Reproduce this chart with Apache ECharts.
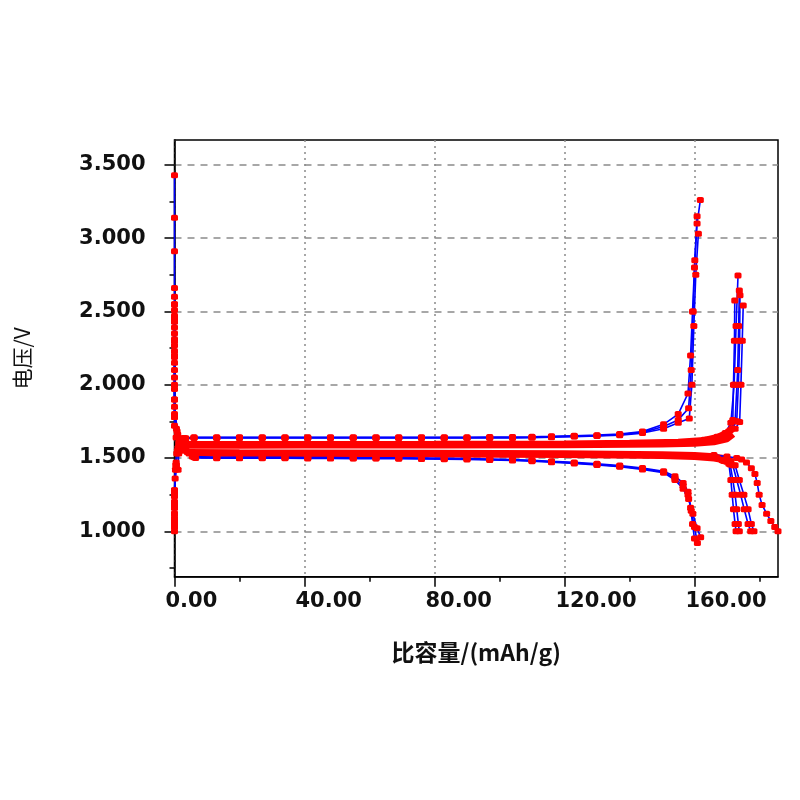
<!DOCTYPE html>
<html>
<head>
<meta charset="utf-8">
<script src="https://cdn.jsdelivr.net/npm/echarts@6/dist/echarts.min.js"></script>
<style>html,body{margin:0;padding:0;background:#fff}#c{width:800px;height:800px}</style>
</head>
<body>
<div id="c"></div>
<script>
// ---- tick labels ----
const xTicks = [0, 40, 80, 120, 160];
const yTicks = [1.0, 1.5, 2.0, 2.5, 3.0, 3.5];
const xName = '比容量/(mAh/g)';
const yName = '电压/V';

// ---- low-rate discharge curves [capacity mAh/g, voltage V] ----
const lowDis1 = [[0,3.43],[0,3.14],[0,2.91],[0,2.66],[0,2.6],[0,2.2],[0,1.9],[0,1.78],[0.6,1.70],[1.8,1.63],[3.5,1.56],[5.5,1.51],[13,1.505],[20,1.505],[27,1.504],[34,1.504],[41,1.503],[48,1.503],[55,1.502],[62,1.502],[69,1.501],[76,1.500],[83,1.498],[90,1.496],[97,1.493],[104,1.489],[110,1.484],[116,1.477],[123,1.470],[130,1.460],[137,1.448],[144,1.432],[150.5,1.410],[154,1.375],[156.5,1.33],[158,1.27],[158.8,1.16],[159.4,1.05],[160,0.95]];
const lowDis2 = [[0,2.55],[0,2.3],[0,2.0],[0,1.8],[0.8,1.68],[2.2,1.60],[4,1.54],[6,1.505],[13,1.502],[20,1.502],[27,1.501],[34,1.501],[41,1.500],[48,1.500],[55,1.499],[62,1.499],[69,1.498],[76,1.497],[83,1.495],[90,1.493],[97,1.490],[104,1.486],[110,1.481],[116,1.474],[123,1.466],[130,1.456],[137,1.444],[144,1.427],[150.5,1.405],[154,1.36],[156.5,1.31],[158,1.25],[159,1.14],[160,1.03],[160.9,0.92]];
const lowDis3 = [[0,2.45],[0,2.1],[0,1.85],[1,1.66],[2.6,1.58],[4.5,1.53],[6.5,1.50],[13,1.499],[20,1.499],[27,1.498],[34,1.498],[41,1.497],[48,1.497],[55,1.496],[62,1.496],[69,1.495],[76,1.494],[83,1.492],[90,1.490],[97,1.487],[104,1.483],[110,1.478],[116,1.471],[123,1.463],[130,1.452],[137,1.440],[144,1.422],[150.5,1.400],[154,1.35],[156.5,1.29],[158.2,1.22],[159.5,1.12],[160.8,1.02],[161.9,0.96]];

// ---- low-rate charge curves ----
const lowChg1 = [[0,1.03],[0,1.12],[0,1.2],[0,1.28],[0.3,1.42],[0.7,1.53],[1.3,1.60],[2.5,1.635],[6,1.642],[13,1.642],[20,1.642],[27,1.642],[34,1.642],[41,1.642],[48,1.642],[55,1.642],[62,1.642],[69,1.642],[76,1.642],[83,1.642],[90,1.642],[97,1.643],[104,1.643],[110,1.645],[116,1.648],[123,1.652],[130,1.656],[137,1.664],[144,1.680],[150.5,1.730],[155,1.80],[158,1.94],[158.8,2.2],[159.4,2.5],[160,2.8],[160.8,3.1],[161.8,3.26]];
const lowChg2 = [[0,1.06],[0,1.16],[0,1.24],[0.4,1.45],[0.9,1.55],[1.6,1.61],[3,1.636],[6,1.639],[13,1.639],[20,1.639],[27,1.639],[34,1.639],[41,1.639],[48,1.639],[55,1.639],[62,1.639],[69,1.639],[76,1.639],[83,1.639],[90,1.639],[97,1.640],[104,1.640],[110,1.642],[116,1.645],[123,1.649],[130,1.653],[137,1.660],[144,1.675],[150.5,1.715],[155,1.76],[158.2,1.84],[159,2.1],[159.6,2.5],[160.1,2.85],[160.8,3.15]];
const lowChg3 = [[0,1.09],[0,1.18],[0,1.26],[0.5,1.47],[1.1,1.57],[2,1.62],[3.5,1.634],[6,1.636],[13,1.636],[20,1.636],[27,1.636],[34,1.636],[41,1.636],[48,1.636],[55,1.636],[62,1.636],[69,1.636],[76,1.636],[83,1.636],[90,1.636],[97,1.637],[104,1.637],[110,1.639],[116,1.642],[123,1.646],[130,1.650],[137,1.656],[144,1.670],[150.5,1.700],[155,1.74],[158.4,1.77],[159.2,2.0],[159.8,2.4],[160.4,2.75],[161.2,3.03]];

// ---- high-rate cycles: starts at zero capacity ----
const hiChgStart = [[0,1.0],[0,1.04],[0,1.08],[0,1.12],[0,1.16],[0,1.2],[0,1.24],[0,1.28],[0.2,1.36],[0.6,1.45],[1.1,1.42],[1.3,1.53],[2.3,1.57],[3.5,1.59]];
const hiDisStart = [[0,2.55],[0,2.51],[0,2.47],[0,2.43],[0,2.39],[0,2.35],[0,2.31],[0,2.27],[0,2.23],[0,2.19],[0,2.15],[0,2.05],[0,1.97],[0,1.90],[0,1.78],[0,1.72],[0.5,1.64],[1.5,1.58],[3,1.55],[4.5,1.54]];

// ---- high-rate plateaus (dense markers form a solid band) ----
const hiChgBand1 = [[3,1.597],[20,1.598],[40,1.598],[80,1.599],[120,1.601],[140,1.605],[155,1.612],[163,1.625],[167,1.645],[170,1.675]];
const hiChgBand2 = [[3,1.582],[20,1.582],[40,1.583],[80,1.584],[120,1.586],[150,1.590],[160,1.595],[166,1.605],[170,1.625],[172,1.66]];
const hiDisBand1 = [[4,1.542],[20,1.541],[40,1.540],[80,1.538],[120,1.534],[150,1.528],[160,1.522],[166,1.513],[170,1.498],[172,1.475]];
const hiDisBand2 = [[5,1.527],[20,1.526],[40,1.525],[80,1.523],[120,1.519],[150,1.512],[160,1.505],[166,1.495],[170,1.480],[172,1.46]];

// ---- high-rate charge ends ----
const hiChgEnd1 = [[163,1.625],[167,1.645],[169.5,1.67],[171.2,1.74],[172.2,2.0],[172.8,2.4],[173.4,2.745]];
const hiChgEnd2 = [[165,1.63],[168.5,1.65],[171,1.69],[172.5,1.75],[173.3,2.1],[173.6,2.4],[173.8,2.643]];
const hiChgEnd3 = [[164,1.625],[168,1.645],[170.5,1.68],[171.8,1.76],[172,2.0],[172.3,2.3],[172.4,2.575]];
const hiChgEnd4 = [[166,1.63],[170,1.655],[172.5,1.70],[173.9,1.745],[174.3,2.0],[174.7,2.3],[175,2.54]];
const hiChgEnd5 = [[165,1.628],[169,1.65],[171.5,1.70],[173,1.75],[173.5,2.0],[173.9,2.3],[174,2.61]];

// ---- high-rate discharge ends ----
const hiDisEnd1 = [[165,1.51],[168.5,1.485],[170.6,1.46],[171.2,1.35],[171.6,1.25],[172,1.15],[172.5,1.05],[172.8,1.0]];
const hiDisEnd2 = [[166,1.505],[169,1.48],[171,1.455],[171.8,1.35],[172.5,1.25],[173,1.15],[173.5,1.05],[173.8,1.0]];
const hiDisEnd3 = [[166,1.505],[169.5,1.478],[171.8,1.45],[173,1.35],[174.2,1.25],[175.3,1.15],[176.5,1.05],[177.3,1.0]];
const hiDisEnd4 = [[167,1.50],[170,1.475],[172.5,1.45],[173.8,1.35],[175.2,1.25],[176.5,1.15],[177.5,1.05],[178.3,1.0]];
const hiDisEnd5 = [[166,1.52],[170,1.51],[173,1.50],[174.5,1.49],[176,1.47],[177.5,1.43],[178.6,1.39],[179.3,1.33],[179.9,1.25],[180.8,1.18],[182.2,1.12],[183.5,1.07],[184.7,1.03],[185.7,1.0]];

const curves = [lowDis1, lowDis2, lowDis3, lowChg1, lowChg2, lowChg3,
  hiChgStart, hiDisStart,
  hiChgEnd1, hiChgEnd2, hiChgEnd3, hiChgEnd4, hiChgEnd5,
  hiDisEnd1, hiDisEnd2, hiDisEnd3, hiDisEnd4, hiDisEnd5];
const bands = [hiChgBand1, hiChgBand2, hiDisBand1, hiDisBand2];

const RED = '#ff0000', BLUE = '#0000ff';
const series = [];
bands.forEach(d => series.push({
  type: 'line', data: d, showSymbol: false, clip: false, z: 2,
  lineStyle: { color: RED, width: 5.5 }, itemStyle: { color: RED }
}));
curves.forEach(d => series.push({
  type: 'line', data: d, symbol: 'roundRect', symbolSize: [7, 6], clip: false, z: 3,
  showAllSymbol: true,
  lineStyle: { color: BLUE, width: 1.6 }, itemStyle: { color: RED, borderWidth: 0 }
}));

const labelFont = "'DejaVu Sans', Verdana, sans-serif";
const chart = echarts.init(document.getElementById('c'), null, { renderer: 'canvas' });
chart.setOption({
  animation: false,
  backgroundColor: '#fff',
  grid: { left: 174.5, right: 22, top: 140, bottom: 223.3, show: true, borderColor: '#000', borderWidth: 1.5, backgroundColor: 'transparent' },
  xAxis: {
    type: 'value', min: 0, max: 185.7, interval: 40,
    name: xName, nameLocation: 'middle', nameGap: 64,
    nameTextStyle: { fontFamily: "'Noto Sans CJK SC', sans-serif", fontWeight: 'bold', fontSize: 23, color: '#111' },
    axisLine: { show: true, lineStyle: { color: '#000', width: 1.5 } },
    axisTick: { show: true, customValues: xTicks, length: 10, lineStyle: { color: '#000', width: 1.5 } },
    minorTick: { show: true, splitNumber: 2, length: 5, lineStyle: { color: '#000', width: 1.5 } },
    axisLabel: { customValues: xTicks, formatter: v => v.toFixed(2), fontFamily: labelFont, fontWeight: 'bold', fontSize: 21, color: '#111', margin: 14, align: 'left', padding: [0, 0, 0, -9] },
    splitLine: { show: true, lineStyle: { color: '#8a8a8a', type: [2, 4], width: 1.5 } },
    minorSplitLine: { show: false }
  },
  yAxis: {
    type: 'value', min: 0.69, max: 3.67, splitNumber: 6,
    name: yName, nameLocation: 'middle', nameGap: 142,
    nameTextStyle: { fontFamily: "'Noto Sans CJK SC', sans-serif", fontSize: 21, color: '#111' },
    axisLine: { show: true, lineStyle: { color: '#000', width: 1.5 } },
    axisTick: { show: true, customValues: yTicks, length: 10, lineStyle: { color: '#000', width: 1.5 } },
    minorTick: { show: true, splitNumber: 2, length: 5, lineStyle: { color: '#000', width: 1.5 } },
    axisLabel: { customValues: yTicks, formatter: v => v.toFixed(3), fontFamily: labelFont, fontWeight: 'bold', fontSize: 21, color: '#111', margin: 29 },
    splitLine: { show: true, lineStyle: { color: '#8a8a8a', type: [7, 6], width: 1.5 } }
  },
  series: series
});
</script>
</body>
</html>
